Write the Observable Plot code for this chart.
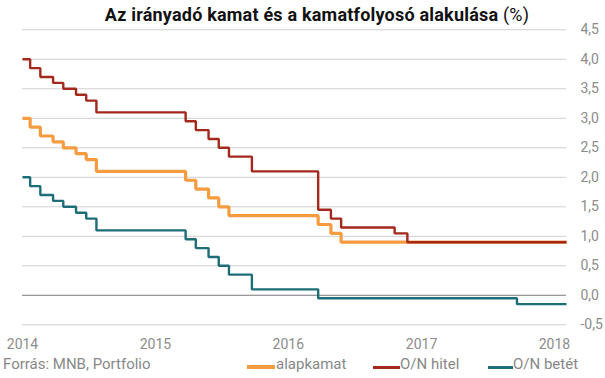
<!DOCTYPE html>
<html>
<head>
<meta charset="utf-8">
<script src="https://cdn.jsdelivr.net/npm/d3@7"></script>
<script src="https://cdn.jsdelivr.net/npm/@observablehq/plot@0.6"></script>
<style>
  html, body { margin: 0; padding: 0; background: #fff; }
  #wrap { position: relative; width: 605px; height: 378px; overflow: hidden; font-family: Roboto, sans-serif; }
  #title { position: absolute; left: 0; width: 634px; top: 6px; text-align: center; font-size: 18px; line-height: 18px; font-weight: 700; color: #111; white-space: nowrap; letter-spacing: 0.2px; }
  #title span { font-weight: 400; }
  #chart { position: absolute; left: 0; top: 20px; }
  .foot { position: absolute; top: 357px; font-size: 15px; line-height: 15px; color: #888; white-space: nowrap; }
  .sw { position: absolute; height: 3px; top: 366px; }
</style>
</head>
<body>
<div id="wrap">
  <div id="title">Az irányadó kamat és a kamatfolyosó alakulása <span>(%)</span></div>
  <div id="chart"></div>
  <div class="foot" style="left:3px">Forrás: MNB, Portfolio</div>
  <div class="sw" style="left:247px;width:28px;background:#F59B40;height:4px;top:365px"></div>
  <div class="foot" style="left:276px">alapkamat</div>
  <div class="sw" style="left:373px;width:27px;background:#A3291D"></div>
  <div class="foot" style="left:400px">O/N hitel</div>
  <div class="sw" style="left:488px;width:25px;background:#1E6E77"></div>
  <div class="foot" style="left:513px">O/N betét</div>
</div>
<script>
// Change dates (effective), last entry = end of the series
const dates = [
  "2014-01-01","2014-01-22","2014-02-19","2014-03-26","2014-04-23","2014-05-28","2014-06-25","2014-07-23",
  "2015-03-25","2015-04-22","2015-05-27","2015-06-24","2015-07-22","2015-09-23",
  "2016-03-23","2016-04-27","2016-05-25","2016-10-19","2016-11-23",
  "2017-09-20",
  "2018-02-03"
];
const alapkamat = [3.00,2.85,2.70,2.60,2.50,2.40,2.30,2.10, 1.95,1.80,1.65,1.50,1.35,1.35, 1.20,1.05,0.90,0.90,0.90, 0.90, 0.90];
const onHitel   = [4.00,3.85,3.70,3.60,3.50,3.40,3.30,3.10, 2.95,2.80,2.65,2.50,2.35,2.10, 1.45,1.30,1.15,1.05,0.90, 0.90, 0.90];
const onBetet   = [2.00,1.85,1.70,1.60,1.50,1.40,1.30,1.10, 0.95,0.80,0.65,0.50,0.35,0.10, -0.05,-0.05,-0.05,-0.05,-0.05, -0.15, -0.15];

const seriesNames = ["alapkamat", "O/N hitel", "O/N betét"];
const seriesColors = ["#F59B40", "#A3291D", "#1E6E77"];
const xTickLabels = ["2014", "2015", "2016", "2017", "2018"];
const yTicks = [-0.5, 0, 0.5, 1, 1.5, 2, 2.5, 3, 3.5, 4, 4.5];

const parse = d3.utcParse("%Y-%m-%d");
const rows = (vals) => dates.map((d, i) => ({date: parse(d), value: vals[i]}));
const sAlap = rows(alapkamat), sHitel = rows(onHitel), sBetet = rows(onBetet);

const chart = Plot.plot({
  width: 605,
  height: 334,
  marginLeft: 22,
  marginRight: 39,
  marginTop: 9.3,
  marginBottom: 29.7,
  style: {fontFamily: "Roboto, sans-serif", fontSize: "14px", color: "#888", background: "transparent"},
  x: {type: "utc", domain: [parse(dates[0]), parse(dates[dates.length - 1])]},
  y: {domain: [-0.5, 4.5]},
  marks: [
    Plot.gridY(yTicks, {stroke: "#cfcfcf", strokeOpacity: 1, strokeWidth: 1}),
    Plot.ruleY([0], {stroke: "#8a8a8a", strokeWidth: 1}),
    Plot.axisY(yTicks, {anchor: "right", tickSize: 0, tickPadding: 14, label: null,
      tickFormat: d => d.toFixed(1).replace(".", ","), fill: "#8c8c8c"}),
    Plot.axisX(xTickLabels.map(y => d3.utcParse("%Y")(y)), {anchor: "bottom", tickSize: 0, tickPadding: 14.7, label: null,
      tickFormat: d3.utcFormat("%Y"), fill: "#8c8c8c"}),
    Plot.line(sAlap, {x: "date", y: "value", curve: "step-after", stroke: seriesColors[0], strokeWidth: 3.2, strokeLinejoin: "miter", strokeLinecap: "butt"}),
    Plot.line(sHitel, {x: "date", y: "value", curve: "step-after", stroke: seriesColors[1], strokeWidth: 2.4, strokeLinejoin: "miter", strokeLinecap: "butt"}),
    Plot.line(sBetet, {x: "date", y: "value", curve: "step-after", stroke: seriesColors[2], strokeWidth: 2.4, strokeLinejoin: "miter", strokeLinecap: "butt"})
  ]
});
document.getElementById("chart").appendChild(chart);
</script>
</body>
</html>
